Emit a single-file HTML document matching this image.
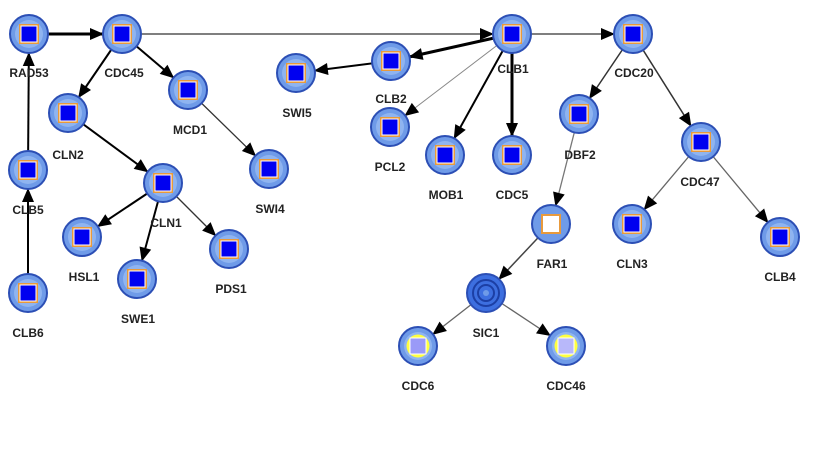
<!DOCTYPE html><html><head><style>body{margin:0;background:#fff}svg{display:block}text{font-family:"Liberation Sans",sans-serif;font-weight:bold;font-size:12px;fill:#222;text-anchor:middle}</style></head><body>
<svg width="821" height="467" xmlns="http://www.w3.org/2000/svg">
<defs>
<marker id="a" markerUnits="userSpaceOnUse" markerWidth="14" markerHeight="12" refX="32" refY="6" orient="auto" overflow="visible"><path d="M0,0L14,6L0,12z" fill="#000"/></marker>
<g id="n"><circle r="19" fill="#6f9be8" stroke="#2c4fb5" stroke-width="2"/><circle r="14" fill="#8fb4f0"/><rect x="-10" y="-10" width="20" height="20" fill="#e89a3c"/><rect x="-8" y="-8" width="16" height="16" fill="#0000f0" stroke="#fff" stroke-width="1"/></g>
</defs>
<g stroke="#000" stroke-width="2" fill="none" marker-end="url(#a)">
<line x1="29" y1="34" x2="122" y2="34" stroke-width="3"/>
<line x1="122" y1="34" x2="512" y2="34" stroke-width="1.2" stroke="#333"/>
<line x1="512" y1="34" x2="633" y2="34" stroke-width="1.2" stroke="#333"/>
<line x1="122" y1="34" x2="68" y2="113"/>
<line x1="122" y1="34" x2="188" y2="90"/>
<line x1="68" y1="113" x2="163" y2="183"/>
<line x1="188" y1="90" x2="269" y2="169" stroke-width="1.3" stroke="#333"/>
<line x1="163" y1="183" x2="82" y2="237"/>
<line x1="163" y1="183" x2="137" y2="279"/>
<line x1="163" y1="183" x2="229" y2="249" stroke-width="1.3" stroke="#333"/>
<line x1="28" y1="170" x2="29" y2="34"/>
<line x1="28" y1="293" x2="28" y2="170"/>
<line x1="512" y1="34" x2="391" y2="61" stroke-width="3"/>
<line x1="391" y1="61" x2="296" y2="73"/>
<line x1="512" y1="34" x2="390" y2="127" stroke-width="1" stroke="#888"/>
<line x1="512" y1="34" x2="445" y2="155"/>
<line x1="512" y1="34" x2="512" y2="155" stroke-width="3"/>
<line x1="633" y1="34" x2="579" y2="114" stroke-width="1.5" stroke="#333"/>
<line x1="633" y1="34" x2="701" y2="142" stroke-width="1.5" stroke="#333"/>
<line x1="579" y1="114" x2="551" y2="224" stroke-width="1.3" stroke="#777"/>
<line x1="551" y1="224" x2="486" y2="293" stroke-width="1.5" stroke="#444"/>
<line x1="486" y1="293" x2="418" y2="346" stroke-width="1.3" stroke="#666"/>
<line x1="486" y1="293" x2="566" y2="346" stroke-width="1.3" stroke="#666"/>
<line x1="701" y1="142" x2="632" y2="224" stroke-width="1.3" stroke="#666"/>
<line x1="701" y1="142" x2="780" y2="237" stroke-width="1.3" stroke="#666"/>
</g>
<use href="#n" x="29" y="34"/><use href="#n" x="122" y="34"/><use href="#n" x="68" y="113"/><use href="#n" x="188" y="90"/><use href="#n" x="28" y="170"/><use href="#n" x="163" y="183"/><use href="#n" x="269" y="169"/><use href="#n" x="82" y="237"/><use href="#n" x="137" y="279"/><use href="#n" x="229" y="249"/><use href="#n" x="28" y="293"/><use href="#n" x="296" y="73"/><use href="#n" x="391" y="61"/><use href="#n" x="512" y="34"/><use href="#n" x="390" y="127"/><use href="#n" x="445" y="155"/><use href="#n" x="512" y="155"/><use href="#n" x="633" y="34"/><use href="#n" x="579" y="114"/><use href="#n" x="701" y="142"/><use href="#n" x="632" y="224"/><use href="#n" x="780" y="237"/>
<g><circle cx="551" cy="224" r="19" fill="#6f9be8" stroke="#2c4fb5" stroke-width="2"/><rect x="541" y="214" width="20" height="20" fill="#e89a3c"/><rect x="543" y="216" width="16" height="16" fill="#fff"/></g>
<g><circle cx="486" cy="293" r="19" fill="#3d6fe0" stroke="#2c4fb5" stroke-width="2"/><circle cx="486" cy="293" r="13" fill="none" stroke="#1c3fa5" stroke-width="2"/><circle cx="486" cy="293" r="8" fill="none" stroke="#1c3fa5" stroke-width="2"/><circle cx="486" cy="293" r="3" fill="#6f9be8"/></g>
<g><circle cx="418" cy="346" r="19" fill="#6f9be8" stroke="#2c4fb5" stroke-width="2"/><circle cx="418" cy="346" r="14" fill="#8fb4f0"/><circle cx="418" cy="346" r="11.5" fill="#ffff40"/><rect x="410" y="338" width="16" height="16" fill="#9a9af8" stroke="#fff"/></g>
<g><circle cx="566" cy="346" r="19" fill="#6f9be8" stroke="#2c4fb5" stroke-width="2"/><circle cx="566" cy="346" r="14" fill="#8fb4f0"/><circle cx="566" cy="346" r="11.5" fill="#ffff40"/><rect x="558" y="338" width="16" height="16" fill="#b8b8fa" stroke="#fff"/></g>
<text x="29" y="77">RAD53</text><text x="124" y="77">CDC45</text><text x="68" y="159">CLN2</text><text x="190" y="134">MCD1</text><text x="28" y="214">CLB5</text><text x="166" y="227">CLN1</text><text x="270" y="213">SWI4</text><text x="84" y="281">HSL1</text><text x="138" y="323">SWE1</text><text x="231" y="293">PDS1</text><text x="28" y="337">CLB6</text><text x="297" y="117">SWI5</text><text x="391" y="103">CLB2</text><text x="513" y="73">CLB1</text><text x="390" y="171">PCL2</text><text x="446" y="199">MOB1</text><text x="512" y="199">CDC5</text><text x="634" y="77">CDC20</text><text x="580" y="159">DBF2</text><text x="700" y="186">CDC47</text><text x="552" y="268">FAR1</text><text x="632" y="268">CLN3</text><text x="780" y="281">CLB4</text><text x="486" y="337">SIC1</text><text x="418" y="390">CDC6</text><text x="566" y="390">CDC46</text>
</svg></body></html>
